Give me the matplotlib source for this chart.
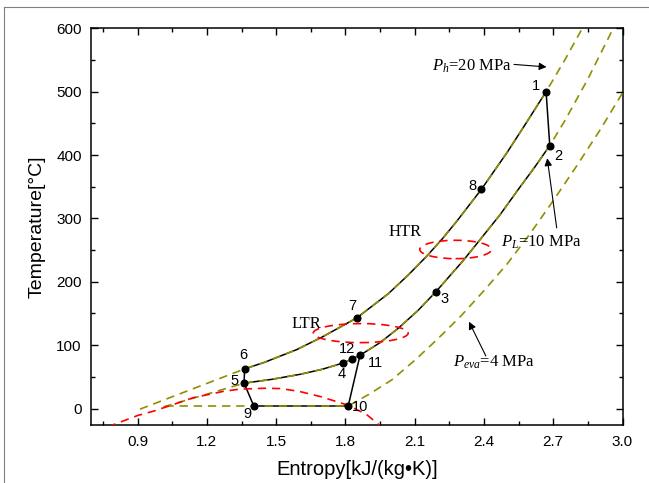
import matplotlib
matplotlib.use("Agg")
import matplotlib.pyplot as plt
from matplotlib.patches import Ellipse
from matplotlib.lines import Line2D
from matplotlib.ticker import MultipleLocator

plt.rcParams["font.family"] = ["Liberation Sans", "DejaVu Sans"]
plt.rcParams["mathtext.fontset"] = "custom"
plt.rcParams["mathtext.rm"] = "Liberation Serif"
plt.rcParams["mathtext.it"] = "Liberation Serif:italic"

# cycle state points (entropy kJ/(kg K), temperature C)
state_labels = ["1", "2", "3", "4", "5", "6", "7", "8", "9", "10", "11", "12"]
state_s = [2.669, 2.685, 2.191, 1.791, 1.361, 1.363, 1.849, 2.389, 1.403, 1.812, 1.863, 1.828]
state_T = [500, 415, 184, 72, 40, 62.5, 143, 346, 4, 4, 84, 78]

# isobars
ph_s = [0.91, 1.363, 1.45, 1.589, 1.70, 1.849, 1.985, 2.07, 2.151, 2.22, 2.281,
        2.389, 2.50, 2.58, 2.669, 2.75, 2.826]
ph_T = [-1, 62.5, 73, 93, 113, 143, 181, 210, 240, 268, 295,
        346, 404, 449, 500, 550, 600]

pl_s = [1.012, 1.361, 1.48, 1.604, 1.70, 1.791, 1.828, 1.863, 1.95, 2.03, 2.115,
        2.191, 2.309, 2.382, 2.47, 2.555, 2.62, 2.685, 2.75, 2.85, 2.96]
pl_T = [2.5, 40, 46, 54, 62, 72, 78, 84, 104, 127, 155,
        184, 233, 266, 306, 349, 381, 415, 454, 520, 600]

peva_s = [1.02, 1.403, 1.812, 1.90, 2.00, 2.10, 2.20, 2.30, 2.40, 2.50, 2.60,
          2.70, 2.80, 2.90, 3.00]
peva_T = [4, 4, 4, 22, 45, 76, 110, 146, 186, 228, 276, 328, 382, 438, 498]

# saturation dome
dome_s = [0.77, 0.90, 0.97, 1.06, 1.14, 1.27, 1.34, 1.45, 1.52, 1.60, 1.69, 1.805, 1.89, 1.96]
dome_T = [-29, -11, -4, 7, 17, 27, 30.5, 32, 31.5, 27, 19, 6, -9, -30]

# recuperator markers: (s, T, width, height)
ltr = (1.866, 119, 0.411, 30)
htr = (2.277, 251, 0.31, 29)

# label offsets in pixels
label_off = {"1": (-10, 6), "2": (9, -10), "3": (9, -7), "4": (-2, -11),
             "5": (-10, 2), "6": (-1, 14), "7": (-4, 12), "8": (-9, 3),
             "9": (-6, -8), "10": (12, -1), "11": (15, -8), "12": (-5, 10)}

fig = plt.figure(figsize=(6.49, 4.83), dpi=100)
ax = fig.add_axes([91.5 / 649, 1 - 425 / 483, (622.5 - 91.5) / 649, (425 - 28.3) / 483])

idx = {k: i for i, k in enumerate(state_labels)}
def pt(k):
    return state_s[idx[k]], state_T[idx[k]]

# black cycle lines
i6, i1 = ph_s.index(1.363), ph_s.index(2.669)
ax.plot(ph_s[i6:i1 + 1], ph_T[i6:i1 + 1], color="black", lw=1.1, zorder=2)
i5, i2 = pl_s.index(1.361), pl_s.index(2.685)
ax.plot(pl_s[i5:i2 + 1], pl_T[i5:i2 + 1], color="black", lw=1.1, zorder=2)
for a, b in [("1", "2"), ("11", "10"), ("10", "9"), ("9", "5"), ("5", "6")]:
    (x0, y0), (x1, y1) = pt(a), pt(b)
    ax.plot([x0, x1], [y0, y1], color="black", lw=1.1, zorder=2)

# dashed isobars on top
olive = "#8f8f00"
for xs, ys in [(ph_s, ph_T), (pl_s, pl_T), (peva_s, peva_T)]:
    ax.plot(xs, ys, color=olive, lw=1.2, dashes=(5, 3.5), zorder=3)

ax.plot(dome_s, dome_T, color="red", lw=1.2, dashes=(5, 3.5), zorder=3)
for cx, cy, w, h in [ltr, htr]:
    ax.add_patch(Ellipse((cx, cy), w, h, fill=False, edgecolor="red", lw=1.2,
                         linestyle=(0, (5, 3.5)), zorder=3))

ax.plot(state_s, state_T, "o", color="black", ms=4.8, zorder=4)
for lab, s, t in zip(state_labels, state_s, state_T):
    dx, dy = label_off[lab]
    ax.annotate(lab, (s, t), xytext=(dx, dy), textcoords="offset pixels",
                ha="center", va="center", fontsize=10.5)

serif = ["Liberation Serif", "DejaVu Serif"]
ax.text(1.985, 278, "HTR", family=serif, fontsize=12, ha="left", va="center")
ax.text(1.565, 133, "LTR", family=serif, fontsize=12, ha="left", va="center")
ax.text(2.175, 533, r"$P_h$=20 MPa", family=serif, fontsize=12, ha="left", va="baseline")
ax.text(2.475, 255, r"$P_L$=10 MPa", family=serif, fontsize=12, ha="left", va="baseline")
ax.text(2.266, 66, r"$P_{eva}$=4 MPa", family=serif, fontsize=12, ha="left", va="baseline")

arrow = dict(arrowstyle="-|>", color="black", lw=0.8, mutation_scale=11, shrinkA=0, shrinkB=0)
ax.annotate("", xy=(2.671, 539), xytext=(2.53, 543), arrowprops=arrow)
ax.annotate("", xy=(2.674, 395), xytext=(2.715, 285), arrowprops=arrow)
ax.annotate("", xy=(2.335, 137), xytext=(2.408, 83), arrowprops=arrow)

ax.set_xlim(0.7, 3.0)
ax.set_ylim(-26, 600)
ax.xaxis.set_minor_locator(MultipleLocator(0.15))
ax.yaxis.set_major_locator(MultipleLocator(100))
ax.yaxis.set_minor_locator(MultipleLocator(50))
ax.set_xticks([0.9, 1.2, 1.5, 1.8, 2.1, 2.4, 2.7, 3.0])
ax.set_xticklabels(["0.9", "1.2", "1.5", "1.8", "2.1", "2.4", "2.7", "3.0"])
ax.tick_params(which="both", direction="in", top=True, right=True, labelsize=11, width=1)
ax.tick_params(which="major", length=5, pad=7)
ax.tick_params(which="minor", length=3)
for sp in ax.spines.values():
    sp.set_linewidth(1.1)

ax.set_xlabel("Entropy[kJ/(kg\u2022K)]", fontsize=14.5, labelpad=8)
ax.set_ylabel("Temperature[\u00b0C]", fontsize=14, labelpad=8)

# thin frame edges of the original screenshot
fig.add_artist(Line2D([4 / 649, 4 / 649], [0, 1 - 7 / 483], color="#808080", lw=0.8))
fig.add_artist(Line2D([4 / 649, 1], [1 - 7 / 483, 1 - 7 / 483], color="#808080", lw=0.8))

fig.savefig("out.png", dpi=100)
